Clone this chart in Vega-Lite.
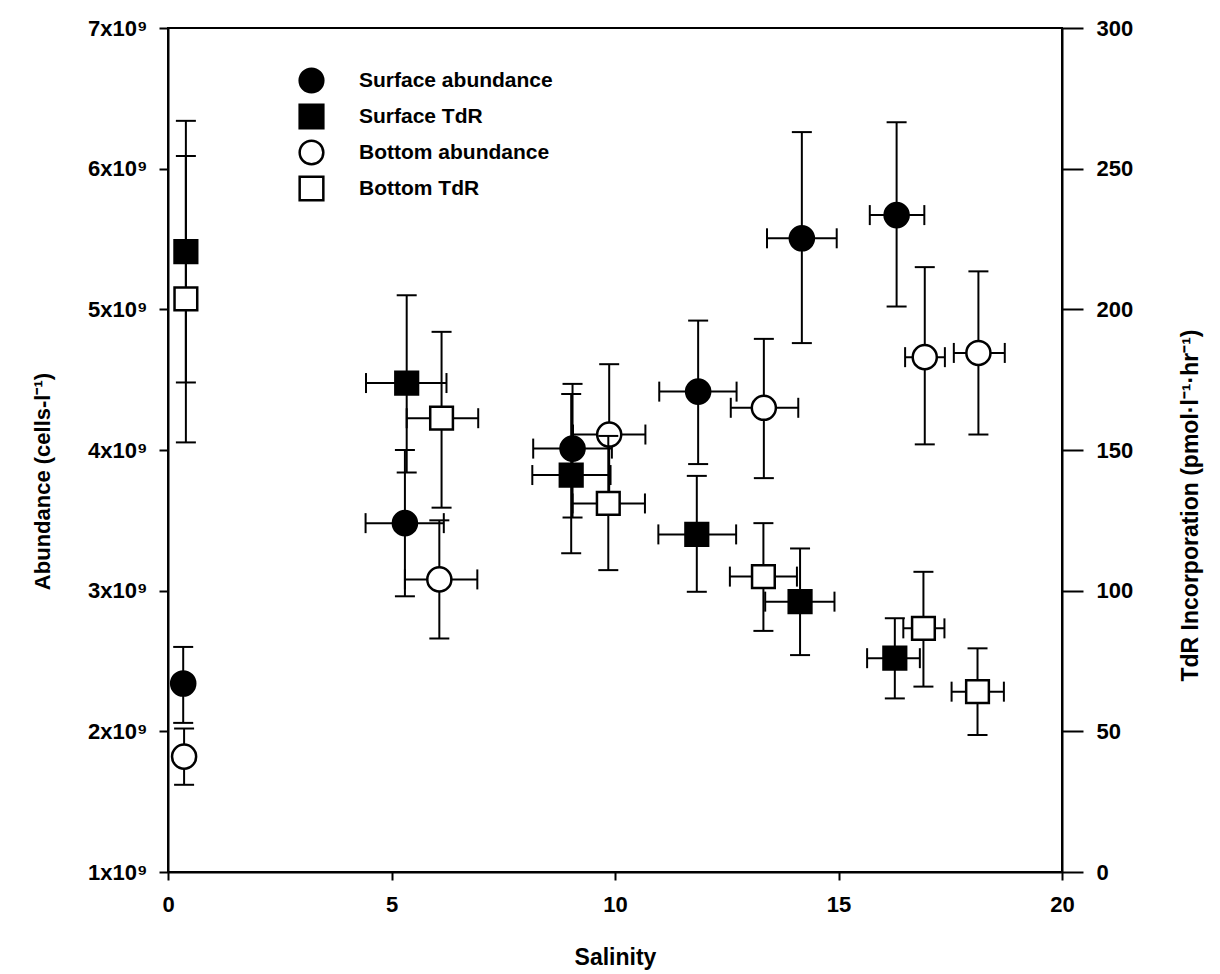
{
  "$schema": "https://vega.github.io/schema/vega-lite/v6.json",
  "width": 894,
  "height": 844,
  "autosize": {"type": "none"},
  "padding": {"left": 168, "top": 28, "right": 158, "bottom": 102},
  "background": "white",
  "config": {
    "font": "Liberation Sans",
    "view": {"stroke": "black", "strokeWidth": 2},
    "axis": {
      "grid": false,
      "domainColor": "black",
      "domainWidth": 2,
      "tickColor": "black",
      "tickWidth": 2,
      "labelFont": "Liberation Sans",
      "labelFontWeight": "bold",
      "labelFontSize": 22,
      "labelColor": "black",
      "titleFont": "Liberation Sans",
      "titleFontWeight": "bold",
      "titleFontSize": 22,
      "titleColor": "black"
    },
    "legend": {
      "orient": "none",
      "legendX": 130,
      "legendY": 39,
      "padding": 0,
      "labelFont": "Liberation Sans",
      "labelFontWeight": "bold",
      "labelFontSize": 21,
      "labelColor": "black",
      "labelLimit": 400,
      "labelOffset": 34,
      "symbolSize": 560,
      "symbolStrokeColor": "black",
      "symbolStrokeWidth": 2.5,
      "rowPadding": 1
    }
  },
  "datasets": {
    "abund": [
      {"series": "Surface abundance", "salinity": 0.34, "v": 2340000000, "lo": 2060000000, "hi": 2600000000},
      {"series": "Surface abundance", "salinity": 5.30, "v": 3480000000, "lo": 2960000000, "hi": 4000000000, "xlo": 4.42, "xhi": 6.17},
      {"series": "Surface abundance", "salinity": 9.05, "v": 4010000000, "lo": 3520000000, "hi": 4470000000, "xlo": 8.17, "xhi": 9.93},
      {"series": "Surface abundance", "salinity": 11.86, "v": 4415000000, "lo": 3900000000, "hi": 4920000000, "xlo": 10.99, "xhi": 12.72},
      {"series": "Surface abundance", "salinity": 14.18, "v": 5505000000, "lo": 4760000000, "hi": 6260000000, "xlo": 13.40, "xhi": 14.96},
      {"series": "Surface abundance", "salinity": 16.30, "v": 5670000000, "lo": 5020000000, "hi": 6330000000, "xlo": 15.70, "xhi": 16.92},
      {"series": "Bottom abundance", "salinity": 0.36, "v": 1820000000, "lo": 1620000000, "hi": 2020000000},
      {"series": "Bottom abundance", "salinity": 6.07, "v": 3080000000, "lo": 2660000000, "hi": 3500000000, "xlo": 5.30, "xhi": 6.92},
      {"series": "Bottom abundance", "salinity": 9.87, "v": 4110000000, "lo": 3610000000, "hi": 4610000000, "xlo": 9.06, "xhi": 10.68},
      {"series": "Bottom abundance", "salinity": 13.33, "v": 4300000000, "lo": 3800000000, "hi": 4790000000, "xlo": 12.59, "xhi": 14.10},
      {"series": "Bottom abundance", "salinity": 16.93, "v": 4660000000, "lo": 4040000000, "hi": 5300000000, "xlo": 16.49, "xhi": 17.38},
      {"series": "Bottom abundance", "salinity": 18.13, "v": 4690000000, "lo": 4110000000, "hi": 5270000000, "xlo": 17.58, "xhi": 18.72}
    ],
    "tdr": [
      {"series": "Surface TdR", "salinity": 0.40, "v": 220.5, "lo": 174, "hi": 267},
      {"series": "Surface TdR", "salinity": 5.34, "v": 173.8, "lo": 142, "hi": 205, "xlo": 4.43, "xhi": 6.23},
      {"series": "Surface TdR", "salinity": 9.02, "v": 141.1, "lo": 113.3, "hi": 169.9, "xlo": 8.15, "xhi": 9.90},
      {"series": "Surface TdR", "salinity": 11.83, "v": 120.0, "lo": 99.6, "hi": 140.8, "xlo": 10.97, "xhi": 12.71},
      {"series": "Surface TdR", "salinity": 14.14, "v": 96.1, "lo": 77.1, "hi": 115, "xlo": 13.36, "xhi": 14.91},
      {"series": "Surface TdR", "salinity": 16.26, "v": 76.0, "lo": 61.7, "hi": 90.2, "xlo": 15.64, "xhi": 16.82},
      {"series": "Bottom TdR", "salinity": 0.40, "v": 203.7, "lo": 152.7, "hi": 254.5},
      {"series": "Bottom TdR", "salinity": 6.12, "v": 161.3, "lo": 129.5, "hi": 192, "xlo": 5.34, "xhi": 6.94},
      {"series": "Bottom TdR", "salinity": 9.85, "v": 131.0, "lo": 107.3, "hi": 155, "xlo": 9.05, "xhi": 10.67},
      {"series": "Bottom TdR", "salinity": 13.32, "v": 105.0, "lo": 85.7, "hi": 124, "xlo": 12.57, "xhi": 14.07},
      {"series": "Bottom TdR", "salinity": 16.90, "v": 86.6, "lo": 65.9, "hi": 106.7, "xlo": 16.45, "xhi": 17.37},
      {"series": "Bottom TdR", "salinity": 18.11, "v": 64.1, "lo": 48.7, "hi": 79.5, "xlo": 17.53, "xhi": 18.70}
    ]
  },
  "layer": [
    {
      "data": {"name": "abund"},
      "layer": [
        {
          "mark": {"type": "rule", "color": "black", "strokeWidth": 2},
          "encoding": {
            "x": {"field": "salinity", "type": "quantitative", "scale": {"domain": [0, 20], "nice": false, "zero": false}},
            "y": {"field": "lo", "type": "quantitative", "scale": {"domain": [1000000000, 7000000000], "nice": false, "zero": false}},
            "y2": {"field": "hi"}
          }
        },
        {
          "transform": [{"fold": ["lo", "hi"], "as": ["k", "capY"]}],
          "mark": {"type": "tick", "orient": "horizontal", "color": "black", "size": 20, "thickness": 2, "opacity": 1},
          "encoding": {
            "x": {"field": "salinity", "type": "quantitative", "scale": {"domain": [0, 20], "nice": false, "zero": false}},
            "y": {"field": "capY", "type": "quantitative", "scale": {"domain": [1000000000, 7000000000], "nice": false, "zero": false}}
          }
        },
        {
          "transform": [{"filter": "isValid(datum.xlo)"}],
          "mark": {"type": "rule", "color": "black", "strokeWidth": 2},
          "encoding": {
            "x": {"field": "xlo", "type": "quantitative", "scale": {"domain": [0, 20], "nice": false, "zero": false}},
            "x2": {"field": "xhi"},
            "y": {"field": "v", "type": "quantitative", "scale": {"domain": [1000000000, 7000000000], "nice": false, "zero": false}}
          }
        },
        {
          "transform": [{"filter": "isValid(datum.xlo)"}, {"fold": ["xlo", "xhi"], "as": ["k", "capX"]}],
          "mark": {"type": "tick", "orient": "vertical", "color": "black", "size": 20, "thickness": 2, "opacity": 1},
          "encoding": {
            "x": {"field": "capX", "type": "quantitative", "scale": {"domain": [0, 20], "nice": false, "zero": false}},
            "y": {"field": "v", "type": "quantitative", "scale": {"domain": [1000000000, 7000000000], "nice": false, "zero": false}}
          }
        },
        {
          "mark": {"type": "point", "filled": true, "stroke": "black", "strokeWidth": 2.5, "opacity": 1, "size": 580},
          "encoding": {
            "x": {
              "field": "salinity", "type": "quantitative",
              "scale": {"domain": [0, 20], "nice": false, "zero": false},
              "axis": {"orient": "bottom", "values": [0, 5, 10, 15, 20], "tickSize": 8, "labelPadding": 14, "title": "Salinity", "titleFontSize": 23, "titleY": 85, "titleBaseline": "middle", "labelFlush": false}
            },
            "y": {
              "field": "v", "type": "quantitative",
              "scale": {"domain": [1000000000, 7000000000], "nice": false, "zero": false},
              "axis": {"orient": "left", "values": [1000000000, 2000000000, 3000000000, 4000000000, 5000000000, 6000000000, 7000000000], "labelExpr": "format(datum.value/1e9, 'd') + 'x10⁹'", "tickSize": 9, "labelPadding": 12, "labelFlush": false, "title": "Abundance (cells-l⁻¹)", "titleX": -126, "titleY": 453, "titleAngle": -90, "titleAlign": "center", "titleBaseline": "middle"}
            },
            "shape": {"field": "series", "type": "nominal", "scale": {"domain": ["Surface abundance", "Surface TdR", "Bottom abundance", "Bottom TdR"], "range": ["circle", "square", "circle", "square"]}, "legend": {"title": null}},
            "fill": {"field": "series", "type": "nominal", "scale": {"domain": ["Surface abundance", "Surface TdR", "Bottom abundance", "Bottom TdR"], "range": ["black", "black", "white", "white"]}, "legend": {"title": null}},
            "stroke": {"field": "series", "type": "nominal", "scale": {"domain": ["Surface abundance", "Surface TdR", "Bottom abundance", "Bottom TdR"], "range": ["black", "black", "black", "black"]}, "legend": {"title": null}}
          }
        }
      ]
    },
    {
      "data": {"name": "tdr"},
      "layer": [
        {
          "mark": {"type": "rule", "color": "black", "strokeWidth": 2},
          "encoding": {
            "x": {"field": "salinity", "type": "quantitative", "scale": {"domain": [0, 20], "nice": false, "zero": false}},
            "y": {"field": "lo", "type": "quantitative", "scale": {"domain": [0, 300], "nice": false, "zero": false}},
            "y2": {"field": "hi"}
          }
        },
        {
          "transform": [{"fold": ["lo", "hi"], "as": ["k", "capY"]}],
          "mark": {"type": "tick", "orient": "horizontal", "color": "black", "size": 20, "thickness": 2, "opacity": 1},
          "encoding": {
            "x": {"field": "salinity", "type": "quantitative", "scale": {"domain": [0, 20], "nice": false, "zero": false}},
            "y": {"field": "capY", "type": "quantitative", "scale": {"domain": [0, 300], "nice": false, "zero": false}}
          }
        },
        {
          "transform": [{"filter": "isValid(datum.xlo)"}],
          "mark": {"type": "rule", "color": "black", "strokeWidth": 2},
          "encoding": {
            "x": {"field": "xlo", "type": "quantitative", "scale": {"domain": [0, 20], "nice": false, "zero": false}},
            "x2": {"field": "xhi"},
            "y": {"field": "v", "type": "quantitative", "scale": {"domain": [0, 300], "nice": false, "zero": false}}
          }
        },
        {
          "transform": [{"filter": "isValid(datum.xlo)"}, {"fold": ["xlo", "xhi"], "as": ["k", "capX"]}],
          "mark": {"type": "tick", "orient": "vertical", "color": "black", "size": 20, "thickness": 2, "opacity": 1},
          "encoding": {
            "x": {"field": "capX", "type": "quantitative", "scale": {"domain": [0, 20], "nice": false, "zero": false}},
            "y": {"field": "v", "type": "quantitative", "scale": {"domain": [0, 300], "nice": false, "zero": false}}
          }
        },
        {
          "mark": {"type": "point", "filled": true, "stroke": "black", "strokeWidth": 2.5, "opacity": 1, "size": 515},
          "encoding": {
            "x": {"field": "salinity", "type": "quantitative", "scale": {"domain": [0, 20], "nice": false, "zero": false}},
            "y": {
              "field": "v", "type": "quantitative",
              "scale": {"domain": [0, 300], "nice": false, "zero": false},
              "axis": {"orient": "right", "values": [0, 50, 100, 150, 200, 250, 300], "tickSize": 21, "labelPadding": 13, "labelFlush": false, "title": "TdR Incorporation (pmol·l⁻¹·hr⁻¹)", "titleFontSize": 23, "titleX": 128, "titleY": 477, "titleAngle": -90, "titleAlign": "center", "titleBaseline": "middle"}
            },
            "shape": {"field": "series", "type": "nominal", "scale": {"domain": ["Surface abundance", "Surface TdR", "Bottom abundance", "Bottom TdR"], "range": ["circle", "square", "circle", "square"]}, "legend": {"title": null}},
            "fill": {"field": "series", "type": "nominal", "scale": {"domain": ["Surface abundance", "Surface TdR", "Bottom abundance", "Bottom TdR"], "range": ["black", "black", "white", "white"]}, "legend": {"title": null}},
            "stroke": {"field": "series", "type": "nominal", "scale": {"domain": ["Surface abundance", "Surface TdR", "Bottom abundance", "Bottom TdR"], "range": ["black", "black", "black", "black"]}, "legend": {"title": null}}
          }
        }
      ]
    }
  ],
  "resolve": {"scale": {"y": "independent"}}
}
